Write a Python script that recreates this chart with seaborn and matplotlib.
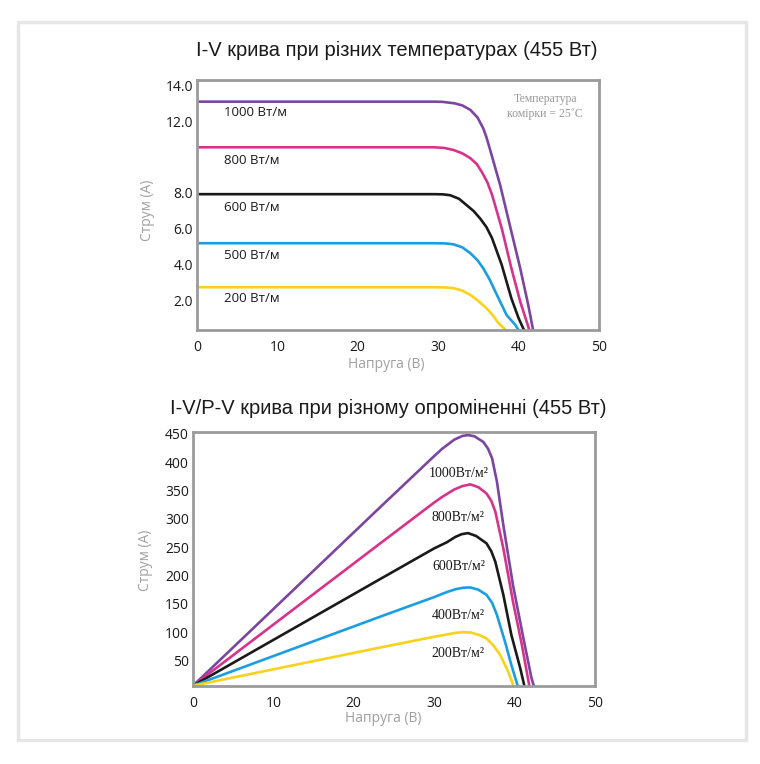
import matplotlib
matplotlib.use("Agg")
import matplotlib.pyplot as plt
import seaborn as sns
from matplotlib.patches import Rectangle

# ---- дані: I-V криві (верхній графік) ----
iv_labels = ["1000 Вт/м", "800 Вт/м", "600 Вт/м", "500 Вт/м", "200 Вт/м"]
iv_v_1000 = [0, 29.5, 30.5, 32.0, 33.0, 34.0, 34.9, 35.6, 36.0, 36.4, 37.7, 38.9, 40.2, 41.2, 41.9]
iv_i_1000 = [13.09, 13.09, 13.08, 13.0, 12.88, 12.63, 12.2, 11.6, 11.1, 10.49, 8.44, 6.2, 3.78, 1.73, 0.1]
iv_v_800 = [0, 29.5, 30.8, 31.9, 33.0, 34.0, 34.8, 35.4, 36.1, 36.7, 37.9, 39.1, 40.2, 41.0, 41.5]
iv_i_800 = [10.54, 10.54, 10.5, 10.39, 10.2, 9.93, 9.6, 9.18, 8.6, 7.88, 6.02, 3.78, 1.92, 0.8, 0.1]
iv_v_600 = [0, 29.5, 30.6, 31.5, 32.6, 33.5, 34.4, 35.2, 36.0, 36.7, 37.9, 39.1, 40.0, 40.9]
iv_i_600 = [7.92, 7.92, 7.91, 7.86, 7.66, 7.32, 6.98, 6.57, 6.08, 5.46, 3.97, 2.1, 0.99, 0.1]
iv_v_500 = [0, 29.5, 30.8, 31.9, 33.0, 34.0, 34.9, 35.6, 36.4, 37.1, 38.5, 39.6, 40.3]
iv_i_500 = [5.18, 5.18, 5.17, 5.12, 4.95, 4.62, 4.22, 3.78, 3.15, 2.48, 1.17, 0.61, 0.1]
iv_v_200 = [0, 29.5, 30.8, 31.9, 33.0, 34.0, 35.0, 36.0, 36.8, 37.5, 38.2, 38.8]
iv_i_200 = [2.72, 2.72, 2.71, 2.67, 2.53, 2.29, 1.95, 1.55, 1.15, 0.71, 0.42, 0.1]
iv_label_y = [12.5, 9.8, 7.17, 4.5, 2.07]

# ---- дані: P-V криві (нижній графік) ----
pv_labels = ["1000Вт/м²", "800Вт/м²", "600Вт/м²", "400Вт/м²", "200Вт/м²"]
pv_v_1000 = [0, 23.3, 30.0, 31.0, 32.5, 33.5, 34.2, 35.0, 36.1, 36.7, 37.2, 37.8, 38.6, 39.8, 41.1, 42.1, 42.5]
pv_p_1000 = [5.5, 321, 411, 424, 440, 446.5, 448, 446, 436, 424, 407, 366, 289, 183, 89, 19, 0]
pv_v_800 = [0, 23.3, 30.0, 31.0, 32.5, 33.5, 34.5, 35.5, 36.5, 37.1, 37.6, 38.6, 39.8, 40.9, 41.9]
pv_p_800 = [5.5, 257, 329, 339, 352, 358, 361, 356, 345, 332, 313, 248, 154, 78, 0]
pv_v_600 = [0, 23.3, 30.0, 31.6, 32.6, 33.4, 34.2, 35.2, 36.5, 37.1, 37.6, 38.6, 39.6, 40.7, 41.3]
pv_p_600 = [5.5, 194, 248, 259, 268, 273, 275, 270, 257, 243, 224.5, 166, 95, 36.5, 0]
pv_v_400 = [0, 23.3, 30.0, 31.6, 32.7, 33.6, 34.5, 35.5, 36.5, 37.2, 37.8, 38.8, 39.6, 40.5]
pv_p_400 = [5.5, 127.5, 162, 171, 176, 178.5, 179, 175, 166, 152, 130.5, 83.5, 42, 0]
pv_v_200 = [0, 23.3, 30.0, 31.6, 32.6, 33.6, 34.6, 35.6, 36.5, 37.4, 38.2, 39.2, 40.0]
pv_p_200 = [5.5, 73, 92, 96, 98.8, 100, 99.3, 95, 89, 76, 60, 30.5, 0]
pv_label_y = [380, 302, 216, 130, 63]

colors = ["#7b45a0", "#d7338a", "#1a1a1a", "#1b9ee0", "#f9d21b"]

iv_curves = [(iv_v_1000, iv_i_1000), (iv_v_800, iv_i_800), (iv_v_600, iv_i_600),
             (iv_v_500, iv_i_500), (iv_v_200, iv_i_200)]
pv_curves = [(pv_v_1000, pv_p_1000), (pv_v_800, pv_p_800), (pv_v_600, pv_p_600),
             (pv_v_400, pv_p_400), (pv_v_200, pv_p_200)]

sns.set_theme(style="white")
plt.rcParams['font.family'] = ['Open Sans', 'DejaVu Sans']

fig = plt.figure(figsize=(7.6, 7.64), dpi=100)
# світло-сіра рамка навколо обох графіків
fig.patches.append(Rectangle((18 / 760, 1 - 740 / 764), 728 / 760, 718 / 764,
                             transform=fig.transFigure, fill=False,
                             edgecolor="#e6e6e6", linewidth=2.5))

ax1 = fig.add_axes([197 / 760, 1 - 330 / 764, 402 / 760, 250 / 764])
ax2 = fig.add_axes([193 / 760, 1 - 686 / 764, 402 / 760, 254 / 764])

title_font = ['Liberation Sans Narrow', 'Liberation Sans', 'DejaVu Sans']
serif_font = ['Liberation Serif', 'DejaVu Serif']

# верхній графік: I-V
for (v, i), c in zip(iv_curves, colors):
    sns.lineplot(x=v, y=i, ax=ax1, color=c, linewidth=1.9, sort=False, estimator=None)
for lab, y in zip(iv_labels, iv_label_y):
    ax1.text(3.4, y, lab, ha='left', va='center', fontsize=9.5, color="#1a1a1a")
ax1.text(43.3, 12.8, "Температура\nкомірки = 25˚C", ha='center', va='center',
         fontsize=8.5, color="#9a9a9a", family=serif_font, linespacing=1.3)
ax1.set_xlim(0, 50)
ax1.set_ylim(0.33, 14.3)
ax1.set_xticks([0, 10, 20, 30, 40, 50])
ax1.set_yticks([2, 4, 6, 8, 12, 14])
ax1.set_yticklabels(["2.0", "4.0", "6.0", "8.0", "12.0", "14.0"])

# нижній графік: P-V
for (v, p), c in zip(pv_curves, colors):
    sns.lineplot(x=v, y=p, ax=ax2, color=c, linewidth=1.9, sort=False, estimator=None)
for lab, y in zip(pv_labels, pv_label_y):
    ax2.text(33.0, y, lab, ha='center', va='center', fontsize=10, color="#1a1a1a",
             family=serif_font)
ax2.set_xlim(0, 50)
ax2.set_ylim(5, 453.5)
ax2.set_xticks([0, 10, 20, 30, 40, 50])
ax2.set_yticks([50, 100, 150, 200, 250, 300, 350, 400, 450])

for ax in (ax1, ax2):
    for s in ax.spines.values():
        s.set_color("#9b9b9b")
        s.set_linewidth(2)
    ax.tick_params(length=0, labelsize=10, colors="#1a1a1a")
    ax.tick_params(axis='x', pad=7)
    ax.tick_params(axis='y', pad=3)
    ax.set_xlabel("")
    ax.set_ylabel("")

ax1.text(-0.122, 0.48, "Струм (А)", transform=ax1.transAxes, rotation=90,
         ha='center', va='center', fontsize=10, color="#a0a0a0")
ax1.text(0.47, -0.14, "Напруга (В)", transform=ax1.transAxes,
         ha='center', va='center', fontsize=10, color="#a0a0a0")
ax2.text(-0.119, 0.496, "Струм (А)", transform=ax2.transAxes, rotation=90,
         ha='center', va='center', fontsize=10, color="#a0a0a0")
ax2.text(0.473, -0.126, "Напруга (В)", transform=ax2.transAxes,
         ha='center', va='center', fontsize=10, color="#a0a0a0")

fig.text(397 / 760, 1 - 50 / 764, "I-V крива при різних температурах (455 Вт)",
         ha='center', va='center', fontsize=14.5, color="#1a1a1a", family=title_font)
fig.text(388 / 760, 1 - 408 / 764, "I-V/P-V крива при різному опроміненні (455 Вт)",
         ha='center', va='center', fontsize=14.5, color="#1a1a1a", family=title_font)

fig.savefig("out.png", dpi=100, facecolor="white")
